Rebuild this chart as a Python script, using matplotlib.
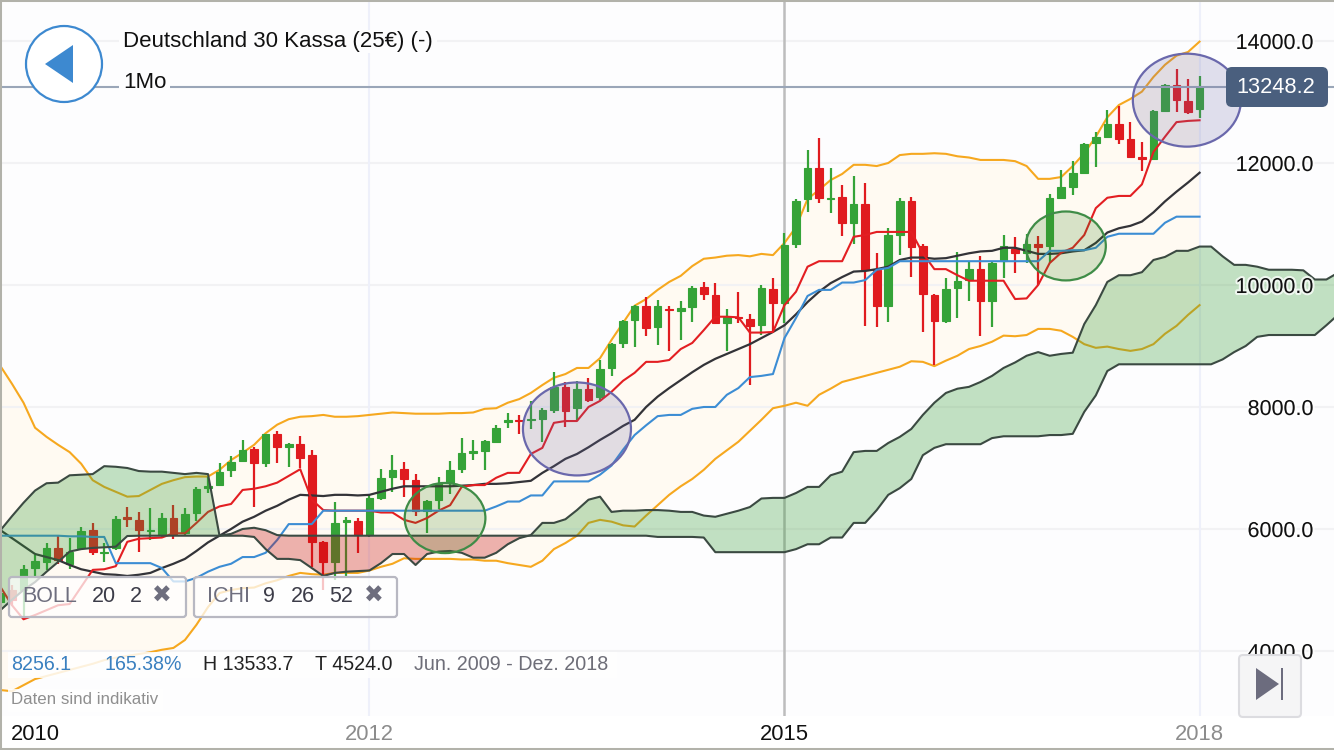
import numpy as np
import matplotlib
matplotlib.use('Agg')
import matplotlib.pyplot as plt
import matplotlib.patheffects as pe
from matplotlib.patches import Circle, Ellipse, FancyBboxPatch, Polygon, Rectangle

plt.rcParams['font.family'] = ['Liberation Sans', 'DejaVu Sans']

# months counted from Jan 2012
months = np.arange(-32, 73)
cloud_months = np.arange(-32, 85)

opens = [4800, 5000, 5000, 5360, 5460, 5690, 5430, 5690, 5980, 5610,
         5690, 6200, 6140, 5960, 5900, 6180, 5930, 6270, 6670, 6720,
         6960, 7110, 7310, 7090, 7560, 7350, 7390, 7210, 5790, 5460,
         6120, 6130, 5900, 6510, 6860, 6980, 6800, 6300, 6480, 6760,
         6980, 7250, 7280, 7430, 7760, 7790, 7780, 7800, 7950, 8330,
         7980, 8300, 8160, 8640, 9050, 9430, 9660, 9310, 9610, 9580,
         9640, 9960, 9840, 9380, 9480, 9440, 9340, 9930, 9710, 10670,
         11410, 11920, 11410, 11440, 11020, 11330, 10240, 9650, 10820, 11380,
         10640, 9840, 9410, 9950, 10080, 10260, 9740, 10390, 10590, 10530,
         10670, 10640, 11420, 11610, 11840, 12330, 12430, 12640, 12390, 12100,
         12060, 12850, 13280, 13020, 12890]
closes = [4950, 4840, 5340, 5480, 5690, 5490, 5630, 5970, 5630, 5630,
          6160, 6160, 5980, 5980, 6180, 5920, 6250, 6660, 6700, 6940,
          7100, 7300, 7090, 7560, 7350, 7390, 7170, 5790, 5460, 6100,
          6150, 5900, 6510, 6840, 6970, 6820, 6300, 6460, 6750, 6970,
          7250, 7280, 7440, 7660, 7790, 7770, 7810, 7950, 8320, 7940,
          8300, 8120, 8620, 9030, 9410, 9660, 9300, 9660, 9590, 9630,
          9950, 9850, 9380, 9480, 9460, 9330, 9950, 9700, 10650, 11380,
          11920, 11420, 11430, 11020, 11330, 10240, 9650, 10820, 11380, 10620,
          9850, 9410, 9940, 10070, 10260, 9740, 10360, 10640, 10525, 10670,
          10630, 11430, 11600, 11840, 12310, 12430, 12640, 12390, 12100, 12070,
          12860, 13280, 13030, 12840, 13248.2]
highs = [5080, 5080, 5410, 5570, 5770, 5900, 5850, 6030, 6100, 5770,
         6210, 6360, 6280, 6340, 6270, 6390, 6350, 6690, 6850, 7090,
         7190, 7460, 7340, 7560, 7610, 7410, 7520, 7290, 5810, 6450,
         6200, 6180, 6560, 6980, 7210, 7100, 6900, 6480, 6850, 7110,
         7490, 7460, 7460, 7700, 7900, 7870, 8100, 7980, 8570, 8410,
         8430, 8480, 8770, 9050, 9430, 9670, 9810, 9750, 9650, 9730,
         9980, 10050, 10040, 9610, 9890, 9520, 10000, 10110, 10850, 11410,
         12210, 12410, 11920, 11640, 11790, 11670, 10520, 10940, 11430, 11450,
         10670, 9850, 10110, 10540, 10380, 10480, 10380, 10820, 10790, 10840,
         10800, 11490, 11890, 12030, 12330, 12510, 12870, 12930, 12680, 12340,
         12870, 13300, 13533.7, 13370, 13430]
lows = [4670, 4740, 4524, 5210, 5330, 5430, 5340, 5660, 5570, 5460,
        5660, 6030, 5630, 5820, 5870, 5840, 5900, 6130, 6590, 6700,
        6850, 7100, 6360, 7020, 7080, 7020, 7000, 5380, 5000, 5160,
        5230, 5610, 5870, 6480, 6610, 6520, 6210, 5930, 6330, 6570,
        6920, 7130, 6970, 7430, 7660, 7560, 7640, 7430, 7900, 7670,
        7780, 8090, 8120, 8500, 8970, 8980, 9170, 9020, 8920, 9100,
        9400, 9750, 9360, 8910, 9380, 8360, 9180, 9230, 9380, 10610,
        11200, 11350, 11180, 10800, 10670, 9330, 9310, 9400, 10490, 10130,
        9230, 8690, 9380, 9460, 9740, 9170, 9310, 10120, 10200, 10360,
        10000, 10360, 11420, 11470, 11840, 11940, 12420, 12310, 12090, 11870,
        12050, 12850, 12840, 12800, 12740]

boll_upper = [8670, 8380, 8070, 7660, 7510, 7380, 7260, 7070, 6800, 6690,
              6610, 6530, 6540, 6640, 6740, 6800, 6850, 6860, 6860, 6970,
              7130, 7250, 7380, 7570, 7710, 7800, 7840, 7850, 7870, 7840,
              7840, 7850, 7870, 7890, 7910, 7900, 7890, 7890, 7890, 7900,
              7900, 7910, 7970, 7980, 8070, 8130, 8230, 8360, 8480, 8540,
              8640, 8640, 8800, 9100, 9380, 9660, 9770, 9920, 10050, 10150,
              10310, 10430, 10450, 10480, 10490, 10470, 10510, 10490, 10690, 10950,
              11410, 11560, 11720, 11820, 11970, 11970, 11950, 12000, 12130, 12150,
              12150, 12160, 12150, 12110, 12090, 12050, 12050, 12050, 12030, 11950,
              11740, 11740, 11770, 11950, 12160, 12430, 12750, 12950, 13050, 13170,
              13410, 13610, 13760, 13820, 13990]
boll_lower = [3360, 3340, 3440, 3540, 3590, 3640, 3690, 3740, 3790, 3850,
              3890, 3920, 3950, 3980, 4020, 4050, 4180, 4430, 4720, 4950,
              5000, 5030, 5040, 5110, 5160, 5230, 5280, 5260, 5250, 5280,
              5280, 5280, 5320, 5380, 5430, 5520, 5510, 5510, 5510, 5510,
              5500, 5500, 5480, 5480, 5440, 5410, 5380, 5480, 5670, 5770,
              5890, 6100, 6150, 6120, 6060, 6040, 6220, 6390, 6560, 6700,
              6820, 6970, 7150, 7290, 7430, 7610, 7790, 7980, 8020, 8070,
              8020, 8200, 8300, 8410, 8460, 8510, 8560, 8610, 8660, 8750,
              8740, 8670, 8760, 8840, 8950, 9000, 9070, 9170, 9160, 9180,
              9280, 9280, 9250, 9150, 9030, 8970, 8990, 8950, 8920, 8950,
              9030, 9200, 9330, 9510, 9670]
boll_mid = [5980, 5850, 5720, 5590, 5540, 5490, 5410, 5340, 5300, 5260,
            5250, 5230, 5250, 5280, 5360, 5430, 5510, 5640, 5780, 5890,
            6000, 6120, 6200, 6300, 6380, 6480, 6560, 6550, 6540, 6560,
            6560, 6550, 6560, 6610, 6660, 6700, 6700, 6700, 6700, 6700,
            6710, 6720, 6740, 6740, 6750, 6770, 6790, 6920, 7030, 7150,
            7230, 7340, 7460, 7570, 7690, 7790, 8000, 8170, 8310, 8440,
            8570, 8690, 8790, 8870, 8950, 9030, 9130, 9230, 9340, 9520,
            9720, 9890, 10030, 10130, 10220, 10230, 10260, 10300, 10410, 10450,
            10450, 10430, 10440, 10480, 10520, 10550, 10560, 10610, 10610, 10560,
            10510, 10510, 10520, 10550, 10570, 10690, 10860, 10930, 10970, 11040,
            11190, 11370, 11530, 11680, 11840]
tenkan = [5050, 4750, 4520, 4590, 4670, 4750, 4770, 5050, 5330, 5340,
          5390, 5790, 5840, 5850, 5860, 5930, 5930, 6100, 6280, 6370,
          6410, 6640, 6660, 6700, 6760, 6870, 6980, 6480, 6310, 6300,
          6300, 6300, 6300, 6270, 6270, 6150, 6100, 6180, 6300, 6390,
          6690, 6720, 6720, 6840, 6920, 6920, 7230, 7330, 7740, 7770,
          7770, 8000, 8100, 8250, 8430, 8560, 8740, 8740, 8770, 8950,
          9050, 9260, 9480, 9480, 9470, 9220, 9220, 9230, 9670, 9890,
          10300, 10390, 10390, 10390, 10790, 10820, 10870, 10870, 10870, 10870,
          10520, 10260, 10260, 10160, 10070, 10070, 10070, 10070, 9770, 9780,
          10000, 10360, 10530, 10610, 10820, 11260, 11430, 11460, 11460, 11650,
          12180, 12430, 12670, 12690, 12700]
kijun = [5890, 5890, 5890, 5890, 5890, 5890, 5880, 5880, 5870, 5870,
         5440, 5440, 5440, 5440, 5360, 5140, 5140, 5200, 5300, 5380,
         5430, 5540, 5540, 5610, 5820, 6080, 6080, 6080, 6300, 6300,
         6300, 6300, 6300, 6300, 6300, 6300, 6300, 6300, 6300, 6300,
         6300, 6300, 6300, 6370, 6450, 6450, 6550, 6550, 6780, 6780,
         6780, 6780, 6890, 7040, 7300, 7540, 7700, 7850, 7870, 7870,
         7970, 8000, 8000, 8200, 8310, 8490, 8510, 8540, 9130, 9460,
         9820, 9920, 9920, 10040, 10040, 10080, 10250, 10280, 10390, 10390,
         10390, 10390, 10390, 10390, 10390, 10390, 10390, 10390, 10390, 10390,
         10390, 10560, 10560, 10570, 10570, 10610, 10790, 10840, 10840, 10840,
         10840, 11020, 11120, 11120, 11120]
span_a = [5980, 6210, 6430, 6630, 6750, 6760, 6880, 6890, 6900, 7030,
          7020, 7000, 6950, 6940, 6940, 6920, 6900, 6920, 6900, 5890,
          5890, 5890, 5870, 5670, 5510, 5510, 5490, 5360, 5230, 5280,
          5300, 5310, 5320, 5440, 5590, 5590, 5410, 5590, 5630, 5640,
          5610, 5530, 5530, 5610, 5750, 5850, 5900, 6100, 6100, 6160,
          6310, 6480, 6530, 6280, 6300, 6300, 6310, 6310, 6300, 6280,
          6280, 6220, 6200, 6250, 6300, 6360, 6500, 6510, 6510, 6590,
          6690, 6690, 6880, 6940, 7260, 7280, 7280, 7410, 7510, 7640,
          7870, 8070, 8230, 8300, 8330, 8410, 8510, 8640, 8730, 8840,
          8900, 8840, 8870, 8890, 9360, 9670, 10050, 10160, 10160, 10210,
          10410, 10460, 10560, 10560, 10630, 10630, 10470, 10330, 10330, 10300,
          10250, 10250, 10250, 10240, 10090, 10090, 10200]
span_b = [4670, 4840, 5000, 5130, 5300, 5460, 5630, 5670, 5690, 5700,
          5710, 5885, 5890, 5890, 5890, 5890, 5890, 5890, 5890, 5890,
          5920, 6000, 6020, 5980, 5900, 5890, 5890, 5890, 5890, 5890,
          5890, 5890, 5890, 5890, 5890, 5890, 5890, 5890, 5890, 5890,
          5890, 5890, 5890, 5890, 5890, 5890, 5890, 5890, 5890, 5890,
          5890, 5890, 5890, 5890, 5890, 5890, 5890, 5870, 5870, 5870,
          5870, 5860, 5620, 5620, 5620, 5620, 5620, 5620, 5620, 5670,
          5750, 5750, 5860, 5860, 6100, 6100, 6310, 6560, 6670, 6820,
          7210, 7330, 7390, 7390, 7390, 7390, 7490, 7520, 7520, 7520,
          7520, 7540, 7540, 7560, 7920, 8190, 8590, 8700, 8700, 8700,
          8700, 8700, 8700, 8700, 8700, 8700, 8780, 8900, 9000, 9150,
          9180, 9180, 9180, 9180, 9180, 9340, 9510]

y_ticks = [4000, 6000, 8000, 10000, 12000, 14000]
y_tick_labels = ['4000.0', '6000.0', '8000.0', '10000.0', '12000.0', '14000.0']
x_grid = [0, 36, 72]
x_tick_pos = [-29, 0, 36, 72]
x_tick_labels = ['2010', '2012', '2015', '2018']
x_tick_colors = ['#111111', '#8c8c8c', '#111111', '#8c8c8c']
last_price = closes[-1]

GREEN = '#35a338'
RED = '#e01b1f'
ORANGE = '#f6a81f'

fig = plt.figure(figsize=(13.34, 7.5), dpi=100)
ax = fig.add_axes([0, 0, 1, 1], facecolor='#fdfdfe')
ax.set_xlim(-32.04, 83.66)
ax.set_ylim(2377, 14672)
ax.set_axisbelow(False)

# bollinger band
ax.fill_between(months, boll_lower, boll_upper, color='#fffaf2', lw=0, zorder=0.5)

# grid, kept under the marks
for v in y_ticks:
    ax.axhline(v, color='#f2f2f4', lw=1.5, zorder=0.6)
ax.axvline(x_grid[0], color='#eef0fa', lw=1.5, zorder=0.6)
ax.axvline(x_grid[2], color='#eef0fa', lw=1.5, zorder=0.6)
ax.axvline(x_grid[1], color='#bdbdbd', lw=1.8, zorder=0.6)
ax.axhline(last_price, color='#9aa6b8', lw=1.5, zorder=1.55)

ax.plot(months, boll_upper, color=ORANGE, lw=1.5, zorder=1.0)
ax.plot(months, boll_lower, color=ORANGE, lw=1.5, zorder=1.0)

# candles
o = np.array(opens)
c = np.array(closes)
colors = np.where(c >= o, GREEN, RED)
ax.vlines(months, lows, highs, colors=colors, lw=1.6, zorder=1.1)
ax.bar(months, np.abs(c - o), bottom=np.minimum(o, c), width=0.66, color=colors,
       edgecolor=colors, lw=0.8, zorder=1.1)

ax.plot(months, boll_mid, color='#333338', lw=1.6, zorder=1.2)
ax.plot(months, tenkan, color='#e31e22', lw=1.5, zorder=1.2)
ax.plot(months, kijun, color='#3c8dd4', lw=1.5, zorder=1.25)

# cloud goes over everything else
a = np.array(span_a)
b = np.array(span_b)
ax.fill_between(cloud_months, a, b, where=a >= b, interpolate=True, color='#399d39', alpha=0.3, lw=0, zorder=1.4)
ax.fill_between(cloud_months, a, b, where=a <= b, interpolate=True, color='#c50a0a', alpha=0.3, lw=0, zorder=1.4)
ax.plot(cloud_months, span_a, color='#3b4a42', lw=1.5, zorder=1.5)
ax.plot(cloud_months, span_b, color='#3b4a42', lw=1.5, zorder=1.5)

for cx, cy, w, h in [(18.0, 7640, 9.37, 1524), (70.9, 13030, 9.37, 1524)]:
    ax.add_patch(Ellipse((cx, cy), w, h, facecolor=(0.42, 0.40, 0.65, 0.2), edgecolor='#6a68ac', lw=1.6, zorder=1.6))
for cx, cy, w, h in [(6.56, 6180, 7.0, 1150), (60.4, 10640, 6.94, 1130)]:
    ax.add_patch(Ellipse((cx, cy), w, h, facecolor=(0.23, 0.51, 0.12, 0.2), edgecolor='#3f8c47', lw=1.6, zorder=1.6))

# white strip with the years
ax.axhspan(2377, 2935, color='white', lw=0, zorder=2)

ax.set_yticks(y_ticks, y_tick_labels)
ax.yaxis.tick_right()
ax.tick_params(axis='y', length=0, pad=-14.4, labelsize=15.5, labelcolor='#111111')
for lab in ax.get_yticklabels():
    lab.set_ha('right')
    lab.set_path_effects([pe.withStroke(linewidth=3, foreground=(1, 1, 1, 0.75))])

ax.set_xticks(x_tick_pos, x_tick_labels)
ax.tick_params(axis='x', length=0, pad=-19, labelsize=15.8)
for lab, col in zip(ax.get_xticklabels(), x_tick_colors):
    lab.set_color(col)

for side in ['left', 'top', 'bottom']:
    ax.spines[side].set_color('#b2b2aa')
    ax.spines[side].set_linewidth(2.9)
ax.spines['right'].set_visible(False)

# screen furniture, in pixels
ui = fig.add_axes([0, 0, 1, 1], zorder=5)
ui.set_xlim(0, 1334)
ui.set_ylim(750, 0)
ui.axis('off')

ui.add_patch(Rectangle((119, 30), 318, 23, facecolor='#fdfdfe', edgecolor='none'))
ui.add_patch(Rectangle((119, 72), 51, 22, facecolor='#fdfdfe', edgecolor='none'))
ui.add_patch(Circle((64, 64), 38, facecolor='white', edgecolor='#3d89d0', lw=1.6))
ui.add_patch(Polygon([(45, 64), (73, 45), (73, 83)], facecolor='#3d89d0', edgecolor='none'))
ui.text(123, 41.5, 'Deutschland 30 Kassa (25€) (-)', fontsize=16, color='#111111', va='center')
ui.text(123, 82, '1Mo', fontsize=16, color='#111111', va='center')

ui.add_patch(FancyBboxPatch((1226, 67), 102, 40, boxstyle='round,pad=0,rounding_size=6',
                            facecolor='#4a5f7e', edgecolor='none'))
ui.text(1236, 87.5, '13248.2', fontsize=15.7, color='white', va='center')

# indicator chips
for x0, x1 in [(9, 186), (194, 397)]:
    ui.add_patch(FancyBboxPatch((x0, 577), x1 - x0, 40, boxstyle='round,pad=0,rounding_size=3',
                                facecolor=(1, 1, 1, 0.75), edgecolor='#b8b8c2', lw=1.6))
chip_grey = '#6e6e7e'
chip_dark = '#3c3c48'
ui.text(22, 597, 'BOLL', fontsize=15.5, color=chip_grey, va='center')
ui.text(92, 597, '20', fontsize=15.5, color=chip_dark, va='center')
ui.text(130, 597, '2', fontsize=15.5, color=chip_dark, va='center')
ui.text(162, 597, '✖', fontsize=17, color=chip_grey, va='center', ha='center')
ui.text(207, 597, 'ICHI', fontsize=15.5, color=chip_grey, va='center')
ui.text(263, 597, '9', fontsize=15.5, color=chip_dark, va='center')
ui.text(291, 597, '26', fontsize=15.5, color=chip_dark, va='center')
ui.text(329, 597, '52', fontsize=15.5, color=chip_dark, va='center')
ui.text(373.5, 597, '✖', fontsize=17, color=chip_grey, va='center', ha='center')

# stats row
ui.add_patch(Rectangle((8, 652), 609, 26, facecolor=(1, 1, 1, 0.85), edgecolor='none'))
ui.add_patch(Rectangle((8, 689), 155, 23, facecolor=(1, 1, 1, 0.85), edgecolor='none'))
ui.text(11, 664.5, '8256.1', fontsize=14.1, color='#3a80c0', va='center')
ui.text(104, 664.5, '165.38%', fontsize=14.1, color='#3a80c0', va='center')
ui.text(203, 664.5, 'H 13533.7', fontsize=14.1, color='#222222', va='center')
ui.text(315, 664.5, 'T 4524.0', fontsize=14.1, color='#222222', va='center')
ui.text(413.5, 664.5, 'Jun. 2009 - Dez. 2018', fontsize=14.2, color='#6e6e78', va='center')
ui.text(11, 700, 'Daten sind indikativ', fontsize=12.2, color='#8f8f8f', va='center')

# jump to end button
ui.add_patch(FancyBboxPatch((1239, 655), 62, 62, boxstyle='round,pad=0,rounding_size=4',
                            facecolor='#f5f5f6', edgecolor='#dcdce0', lw=1.5))
ui.add_patch(Polygon([(1256, 668), (1279, 684), (1256, 700)], facecolor='#6c6c7e', edgecolor='none'))
ui.add_patch(Rectangle((1281, 668), 2, 32, facecolor='#6c6c7e', edgecolor='none'))

fig.savefig('out.png', dpi=100)
